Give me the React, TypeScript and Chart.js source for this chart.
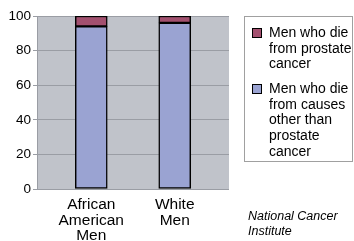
import React, { useEffect, useRef } from "react";
import { Chart, registerables } from "chart.js";
Chart.register(...registerables);

const categories: string[][] = [["African", "American", "Men"], ["White", "Men"]];
const otherCauses = [94, 96];
const prostateCancer = [6, 4];
const seriesLabels = [
  "Men who die from prostate cancer",
  "Men who die from causes other than prostate cancer",
];
const seriesColors = ["#a3506f", "#9aa3d2"];
const sourceLines = ["National Cancer", "Institute"];

const FONT = "'Liberation Sans', Arial, sans-serif";

export default function App() {
  const ref = useRef<HTMLCanvasElement | null>(null);
  useEffect(() => {
    if (!ref.current) return;
    const bgPlugin = {
      id: "plotBg",
      beforeDraw(chart: any) {
        const { ctx, chartArea } = chart;
        ctx.save();
        ctx.fillStyle = "#c0c3ca";
        ctx.fillRect(chartArea.left, chartArea.top, chartArea.right - chartArea.left, chartArea.bottom - chartArea.top);
        ctx.restore();
      },
    };
    const chart = new Chart(ref.current, {
      type: "bar",
      data: {
        datasets: [
          {
            label: seriesLabels[1],
            data: otherCauses.map((v, i) => ({ x: i + 1, y: v })),
            backgroundColor: seriesColors[1],
            borderColor: "#000",
            borderWidth: 1.5,
            borderSkipped: false,
            barThickness: 32,
          },
          {
            label: seriesLabels[0],
            data: prostateCancer.map((v, i) => ({ x: i + 1, y: v })),
            backgroundColor: seriesColors[0],
            borderColor: "#000",
            borderWidth: 1.5,
            borderSkipped: false,
            barThickness: 32,
          },
        ] as any,
      },
      options: {
        animation: false,
        responsive: true,
        maintainAspectRatio: false,
        layout: { padding: { top: 16, right: 125, bottom: 0, left: 0 } },
        plugins: { legend: { display: false }, tooltip: { enabled: false } },
        scales: {
          x: {
            type: "linear",
            stacked: true,
            offset: false,
            min: 0.35,
            max: 2.65,
            grid: { display: false, drawTicks: false, offset: false },
            border: { display: false },
            afterBuildTicks: (s: any) => {
              s.ticks = categories.map((_, i) => ({ value: i + 1 }));
            },
            afterFit: (s: any) => {
              s.height = 52;
            },
            ticks: {
              autoSkip: false,
              maxRotation: 0,
              padding: 8,
              color: "#000",
              font: { family: FONT, size: 15.5, lineHeight: "15.5px" },
              callback: (v: any) => categories[Math.round(v) - 1] as any,
            },
          },
          y: {
            stacked: true,
            min: 0,
            max: 100,
            afterFit: (s: any) => {
              s.width = 37;
            },
            grid: { color: "#9a9da4", lineWidth: 1, tickLength: 4 },
            border: { display: true, color: "#9a9da4" },
            ticks: {
              stepSize: 10,
              padding: 2,
              color: "#000",
              font: { family: FONT, size: 13.5 },
              callback: (v: any) => (v % 20 === 0 ? String(v) : ""),
            },
          },
        },
      } as any,
      plugins: [bgPlugin],
    });
    return () => chart.destroy();
  }, []);

  const legendItems = [
    { label: seriesLabels[0], color: seriesColors[0] },
    { label: seriesLabels[1], color: seriesColors[1] },
  ];

  return (
    <div style={{ position: "absolute", left: 0, top: 0, width: 354, height: 241, background: "#fff", fontFamily: FONT }}>
      <canvas ref={ref} style={{ position: "absolute", left: 0, top: 0 }} />
      <div
        style={{
          position: "absolute",
          left: 244,
          top: 16,
          width: 109,
          height: 146,
          border: "1px solid #a0a0a0",
          boxSizing: "border-box",
          background: "#fff",
        }}
      >
        {legendItems.map((it, i) => (
          <div key={i} style={{ position: "absolute", left: 7, top: i === 0 ? 8 : 64, display: "flex" }}>
            <div
              style={{
                width: 8,
                height: 8,
                marginTop: 3,
                background: it.color,
                border: "1.5px solid #000",
                flex: "0 0 auto",
              }}
            />
            <div style={{ marginLeft: 7, width: 91, fontSize: 14, lineHeight: "15.7px", color: "#000" }}>{it.label}</div>
          </div>
        ))}
      </div>
      <div
        style={{
          position: "absolute",
          left: 248,
          top: 209,
          fontSize: 12.5,
          lineHeight: "15px",
          fontStyle: "italic",
          color: "#000",
        }}
      >
        {sourceLines.map((l, i) => (
          <div key={i}>{l}</div>
        ))}
      </div>
    </div>
  );
}
